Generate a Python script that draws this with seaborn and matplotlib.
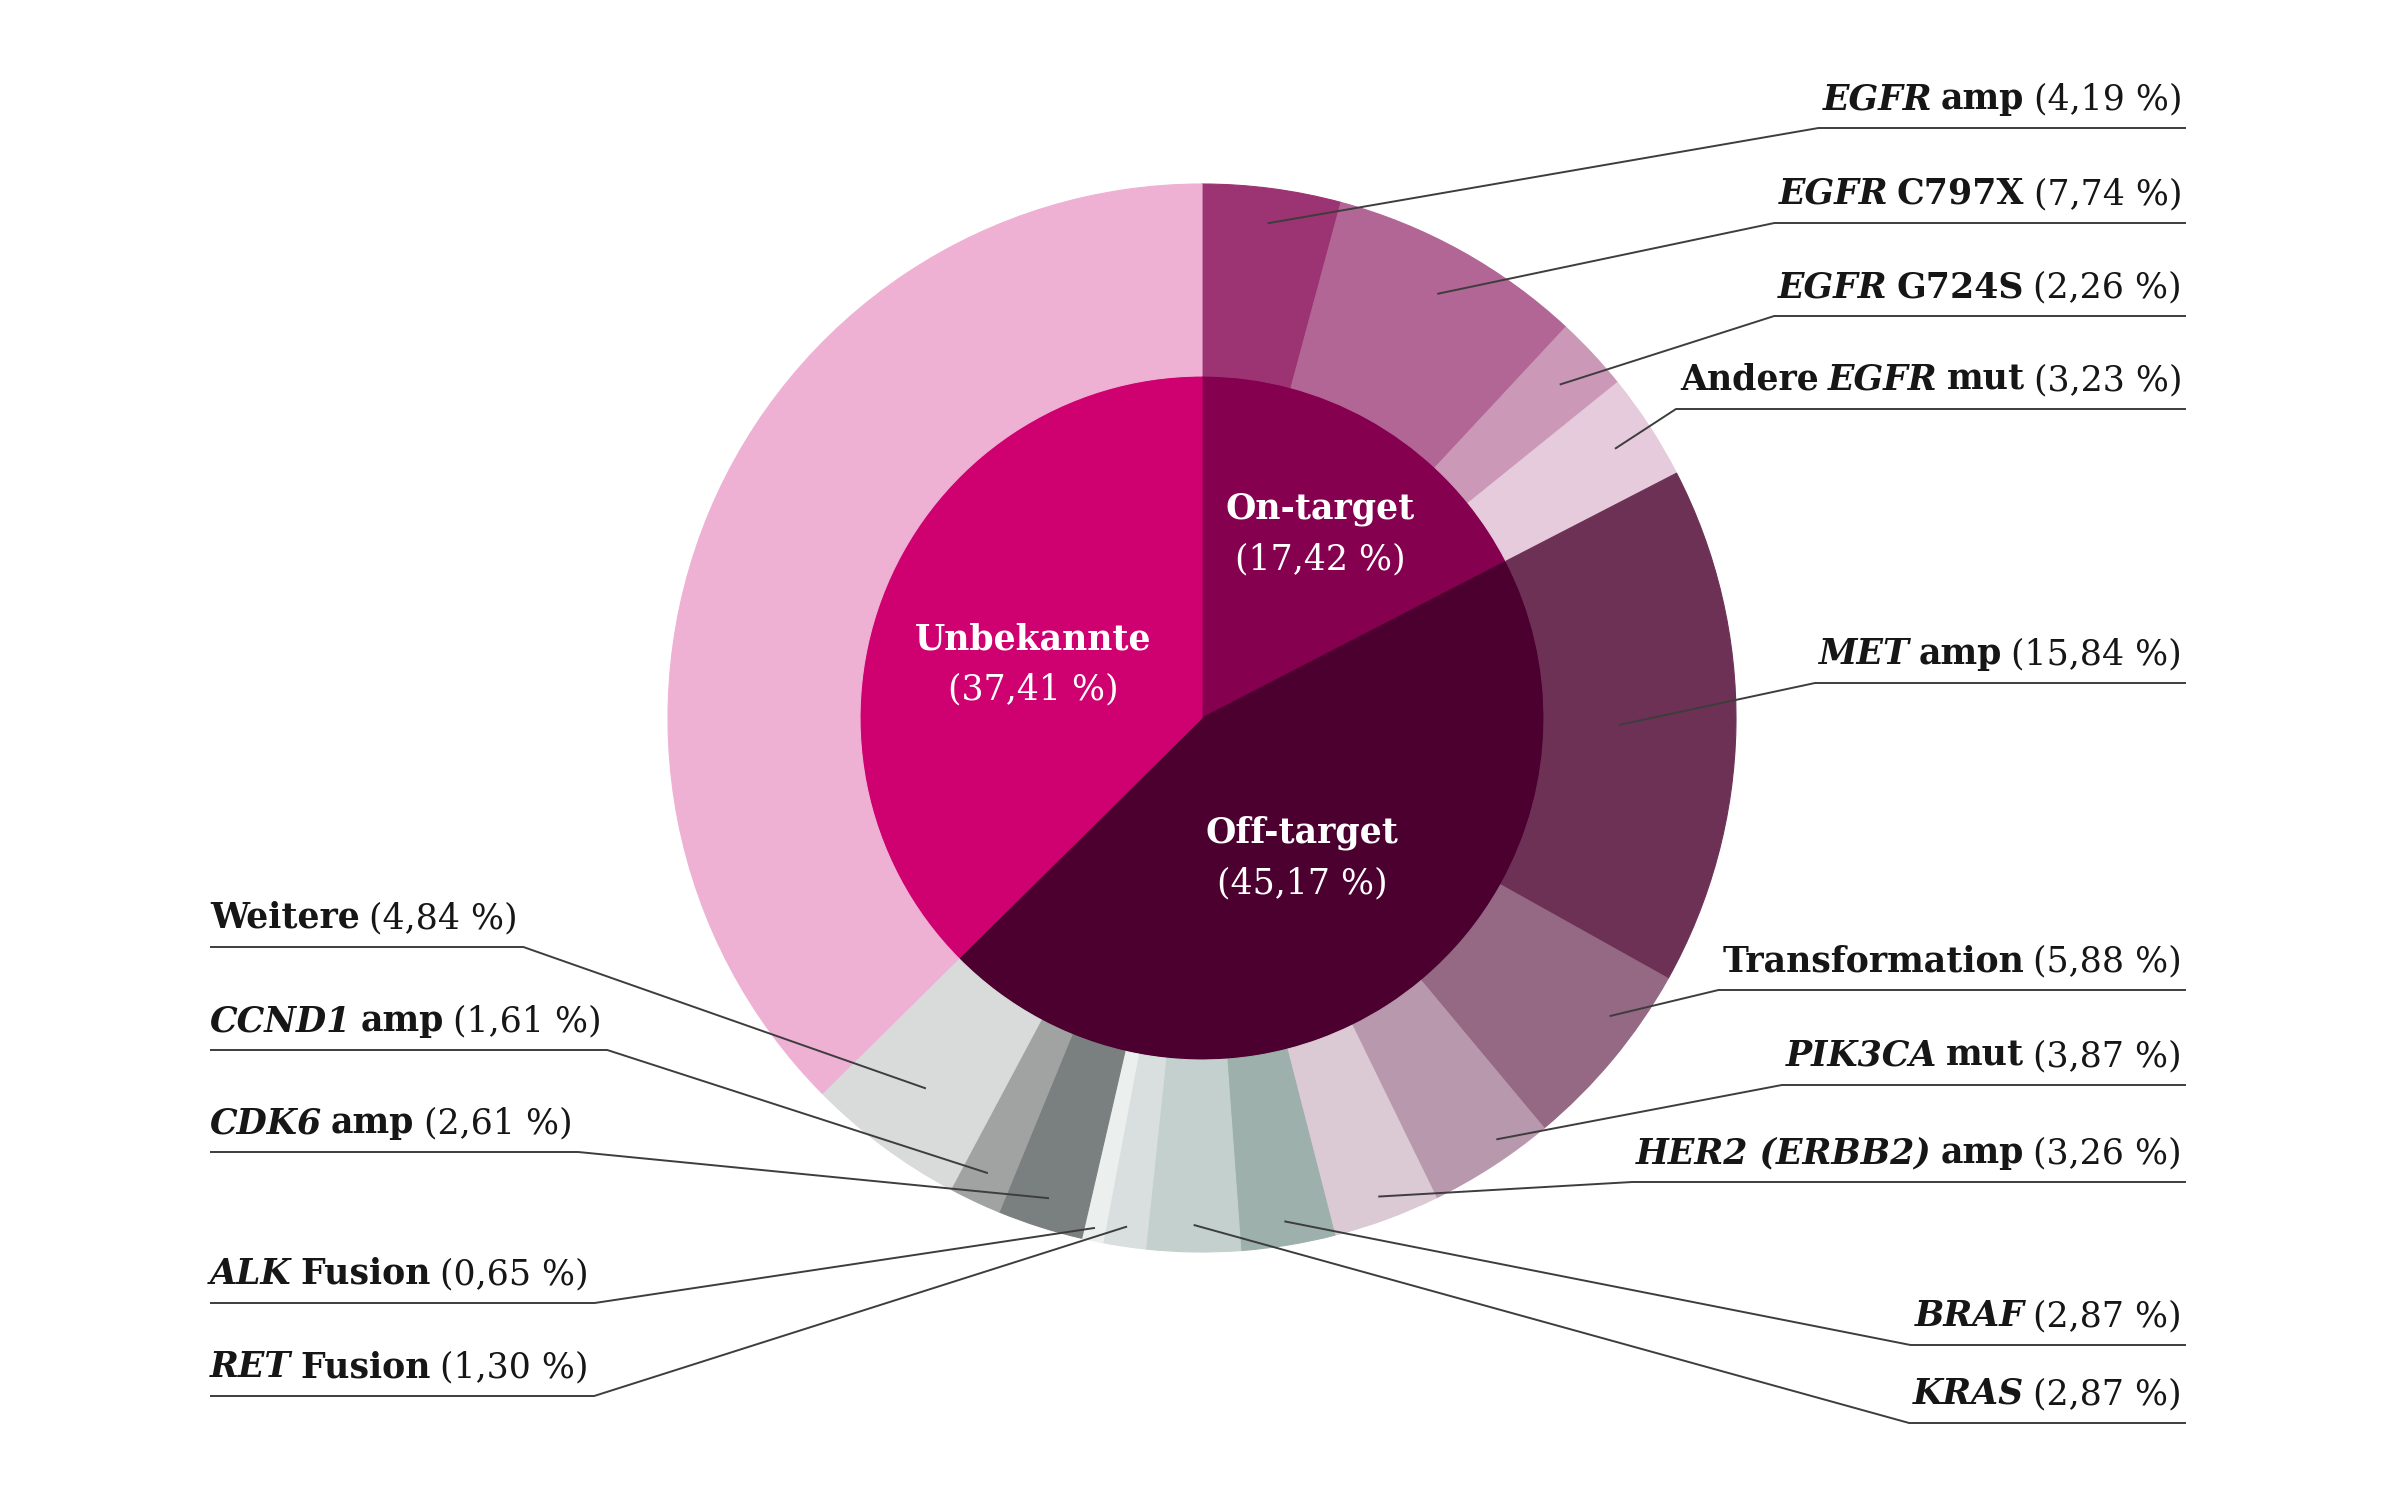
import matplotlib
matplotlib.use("Agg")
import matplotlib.pyplot as plt
import seaborn as sns
import numpy as np

# Inner ring: resistance groups
group_names = ["On-target", "Off-target", "Unbekannte"]
group_values = [17.42, 45.17, 37.41]
group_colors = ["#85004f", "#4c0030", "#cf006f"]

# Outer ring, on-target mechanisms
on_labels = [
    [("EGFR", "bi"), (" amp", "b")],
    [("EGFR", "bi"), (" C797X", "b")],
    [("EGFR", "bi"), (" G724S", "b")],
    [("Andere", "b"), (" EGFR", "bi"), (" mut", "b")],
]
on_values = [4.19, 7.74, 2.26, 3.23]
on_colors = ["#9c3372", "#b26695", "#cb98b7", "#e5cbdb"]

# Outer ring, off-target mechanisms
off_labels = [
    [("MET", "bi"), (" amp", "b")],
    [("Transformation", "b")],
    [("PIK3CA", "bi"), (" mut", "b")],
    [("HER2 (ERBB2)", "bi"), (" amp", "b")],
    [("BRAF", "bi")],
    [("KRAS", "bi")],
    [("RET", "bi"), (" Fusion", "b")],
    [("ALK", "bi"), (" Fusion", "b")],
    [("CDK6", "bi"), (" amp", "b")],
    [("CCND1", "bi"), (" amp", "b")],
    [("Weitere", "b")],
]
off_values = [15.84, 5.88, 3.87, 3.26, 2.87, 2.87, 1.30, 0.65, 2.61, 1.61, 4.84]
off_colors = ["#6d3156", "#956884", "#b898ad", "#dbc9d4", "#9db0ab", "#c3d0cd",
              "#d8dfde", "#ebefee", "#7a807f", "#a0a3a2", "#d9dbda"]

unknown_color = "#eeb1d3"

# layout (pixels, image coordinates with y downwards)
W, H = 2400, 1500
CX, CY = 1202, 718
R_IN, R_OUT = 342, 534
RIGHT_X, LEFT_X = 2186, 210
FS = 25
label_side = ["r"] * 10 + ["l"] * 5
label_line_y = [128, 223, 316, 409, 683, 990, 1085, 1182, 1345, 1423,
                1396, 1303, 1152, 1050, 947]
label_point_r = [499, 485, 489, 493, 417, 505, 514, 510, 510, 507,
                 514, 521, 504, 503, 462]
label_angle_shift = [0, 0, 0, 0, 0, -3.5, -2, 0, 0, 0, 0, 0, 0, 0, 0]
center_text_xy = [(1320, 519), (1302, 843), (1033, 649)]

sns.set_theme(style="white")
plt.rcParams["font.family"] = ["DejaVu Serif"]

fig = plt.figure(figsize=(24, 15), dpi=100)
ax = fig.add_axes([0, 0, 1, 1])

# outer ring values: off-target parts scaled so the ring lines up with the inner pie
off_scaled = np.array(off_values) * group_values[1] / sum(off_values)
outer_values = list(on_values) + list(off_scaled) + [group_values[2]]
outer_colors = on_colors + off_colors + [unknown_color]

inner, _ = ax.pie(group_values, radius=R_IN, center=(CX, H - CY), startangle=90,
                  counterclock=False, colors=group_colors,
                  wedgeprops=dict(linewidth=0.8))
outer, _ = ax.pie(outer_values, radius=R_OUT, center=(CX, H - CY), startangle=90,
                  counterclock=False, colors=outer_colors,
                  wedgeprops=dict(width=R_OUT - R_IN, linewidth=0.8))
for w in list(inner) + list(outer):
    w.set_edgecolor(w.get_facecolor())

ax.set_xlim(0, W)
ax.set_ylim(0, H)
ax.set_aspect("equal")
ax.axis("off")

renderer = fig.canvas.get_renderer()
STYLES = {"b": ("bold", "normal"), "bi": ("bold", "italic"), "r": ("normal", "normal")}


def draw_parts(parts, x, y_img, align, color="#161616"):
    texts, gaps = [], []
    for s, st in parts:
        weight, style = STYLES[st]
        t = ax.text(0, H - y_img, s.strip(), fontsize=FS, fontweight=weight,
                    fontstyle=style, color=color, ha="left", va="baseline")
        texts.append(t)
        gaps.append(FS * 0.36 if s.startswith(" ") else 0)
    widths = [t.get_window_extent(renderer).width for t in texts]
    total = sum(widths) + sum(gaps)
    if align == "right":
        cur = x - total
    elif align == "center":
        cur = x - total / 2
    else:
        cur = x
    start = cur
    for t, g, w in zip(texts, gaps, widths):
        cur += g
        t.set_x(cur)
        cur += w
    return start, start + total


def pct(v):
    return "(" + f"{v:.2f}".replace(".", ",") + " %)"


# outer labels with leader lines
all_labels = on_labels + off_labels
all_values = on_values + off_values
cum = np.cumsum([0] + outer_values)
total = cum[-1]
for i, parts in enumerate(all_labels):
    theta = np.deg2rad((cum[i] + outer_values[i] / 2) / total * 360 + label_angle_shift[i])
    px = CX + label_point_r[i] * np.sin(theta)
    py = CY - label_point_r[i] * np.cos(theta)
    ly = label_line_y[i]
    full = parts + [(" " + pct(all_values[i]), "r")]
    if label_side[i] == "r":
        x0, x1 = draw_parts(full, RIGHT_X - 4, ly - 19, "right")
        xs = [px, x0 - 4, RIGHT_X]
    else:
        x0, x1 = draw_parts(full, LEFT_X, ly - 19, "left")
        xs = [px, x1 + 6, LEFT_X]
    ax.plot(xs, [H - py, H - ly, H - ly], color="#3d3d3d", lw=1.4,
            solid_capstyle="butt", solid_joinstyle="miter")

# labels inside the inner pie
for name, v, (tx, ty) in zip(group_names, group_values, center_text_xy):
    draw_parts([(name, "b")], tx, ty, "center", color="white")
    draw_parts([(pct(v), "r")], tx, ty + 50, "center", color="white")

fig.savefig("out.png", dpi=100, facecolor="white")
